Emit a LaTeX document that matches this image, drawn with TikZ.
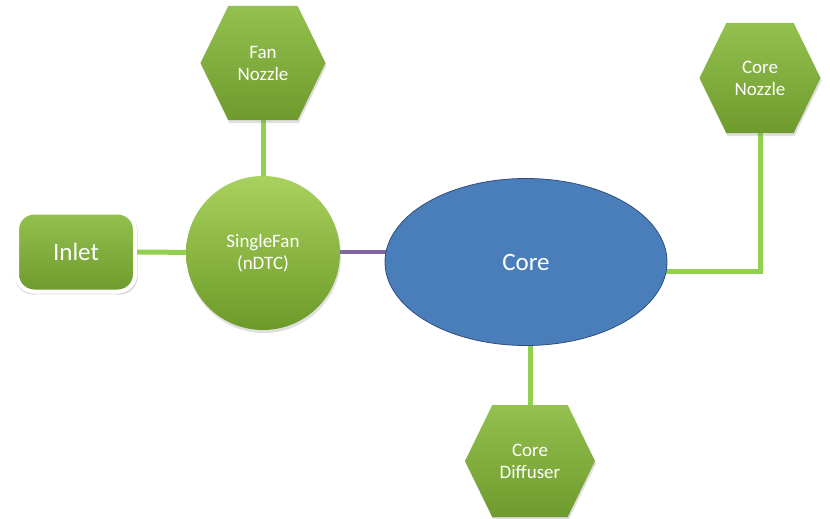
\documentclass[tikz,border=0pt]{standalone}
\usepackage{fontspec}
\setmainfont{Carlito}
\usetikzlibrary{shapes.geometric,shapes.symbols,shadows,backgrounds}

\definecolor{leaftop}{HTML}{93C04E}
\definecolor{leafbot}{HTML}{6F9B2E}
\definecolor{balltop}{HTML}{A9D15E}
\definecolor{ballbot}{HTML}{6C9A28}
\definecolor{wire}{HTML}{92D050}
\definecolor{corefill}{HTML}{4A7EBB}
\definecolor{coreedge}{HTML}{2F4F7A}
\definecolor{link}{HTML}{8064A2}

\tikzset{
  softshadow/.style={drop shadow={opacity=0.25,shadow xshift=1pt,shadow yshift=-3pt}},
  label text/.style={text=white,align=center,font=\fontsize{19}{22}\selectfont},
  hexbox/.style={shape=signal,signal to=west and east,signal pointer angle=128,
    inner sep=0pt,top color=leaftop,bottom color=leafbot,softshadow,label text},
  fanball/.style={circle,inner sep=0pt,minimum size=154pt,top color=balltop,
    bottom color=ballbot,softshadow,label text},
  inletbox/.style={rectangle,rounded corners=17pt,draw=white,line width=4pt,
    minimum width=118pt,minimum height=79pt,top color=leaftop,bottom color=leafbot,
    drop shadow={opacity=0.3,shadow xshift=0.5pt,shadow yshift=-1.5pt,shadow scale=1.035},
    text=white,font=\fontsize{25}{29}\selectfont},
  coreblob/.style={ellipse,inner sep=0pt,minimum width=282pt,minimum height=167pt,
    fill=corefill,draw=coreedge,line width=0.8pt,text=white,
    font=\fontsize{25}{30}\selectfont},
  wire/.style={draw=wire,line width=5pt},
  fanlink/.style={draw=link,line width=3.6pt}
}

\begin{document}
\begin{tikzpicture}[x=1pt,y=-1pt]
  \useasboundingbox (0,0) rectangle (830,519);

  % components
  \node[inletbox] (inlet) at (76,252) {Inlet};
  \node[fanball] (fan) at (263,253) {SingleFan\\(nDTC)};
  \node[hexbox,minimum width=125pt,minimum height=114pt] (fnoz) at (263,63) {Fan\\Nozzle};
  \node[coreblob] (core) at (526,262) {Core};
  \node[hexbox,minimum width=121pt,minimum height=110pt] (cnoz) at (760,78) {Core\\Nozzle};
  \node[hexbox,minimum width=130pt,minimum height=112pt] (cdif) at (530,461) {Core\\Diffuser};

  % connections, kept behind the components
  \begin{pgfonlayer}{background}
    \fill[white] (0,0) rectangle (830,519);
    \draw[wire] (inlet.east) -- (fan.center);
    \draw[wire] (fnoz.south) -- (fan.center);
    \draw[fanlink] (core.176) -- (core.176 -| fan.center);
    \draw[wire] (core.356) -| (cnoz.south);
    \draw[wire] (cdif.north) -- (cdif.north |- core.center);
  \end{pgfonlayer}
\end{tikzpicture}
\end{document}
